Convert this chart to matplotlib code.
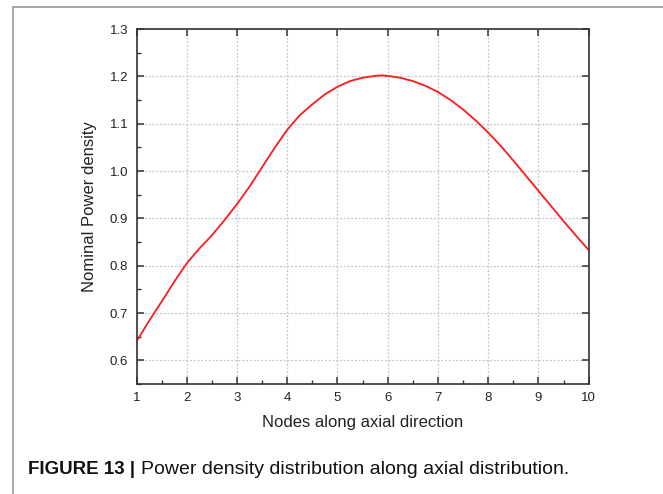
import matplotlib
matplotlib.use("Agg")
import matplotlib.pyplot as plt
from matplotlib.ticker import MultipleLocator
from matplotlib import font_manager
from matplotlib.lines import Line2D

# Data
nodes = [1.0, 1.25, 1.5, 1.75, 2.0, 2.25, 2.5, 2.75, 3.0, 3.25, 3.5, 3.75, 4.0,
         4.25, 4.5, 4.75, 5.0, 5.25, 5.5, 5.75, 5.9, 6.0, 6.25, 6.5, 6.75, 7.0,
         7.25, 7.5, 7.75, 8.0, 8.25, 8.5, 8.75, 9.0, 9.25, 9.5, 9.75, 10.0]
power = [0.640, 0.683, 0.724, 0.766, 0.805, 0.836, 0.864, 0.896, 0.930, 0.967,
         1.008, 1.049, 1.087, 1.118, 1.141, 1.162, 1.178, 1.190, 1.197, 1.201,
         1.202, 1.201, 1.197, 1.190, 1.180, 1.167, 1.150, 1.130, 1.107, 1.081,
         1.053, 1.022, 0.990, 0.958, 0.926, 0.894, 0.863, 0.833]
x_ticks = [1, 2, 3, 4, 5, 6, 7, 8, 9, 10]
y_ticks = [0.6, 0.7, 0.8, 0.9, 1.0, 1.1, 1.2, 1.3]
caption_bold = "FIGURE 13 |"
caption_text = "Power density distribution along axial distribution."

names = {f.name for f in font_manager.fontManager.ttflist}
base = "Liberation Sans" if "Liberation Sans" in names else "DejaVu Sans"

plt.rcParams['font.family'] = [base, 'DejaVu Sans']

fig = plt.figure(figsize=(6.63, 4.94), dpi=100)
fig.patch.set_facecolor("white")

# outer frame (left and top edges visible)
fig.add_artist(Line2D([12.5/663, 12.5/663], [0, 1 - 7/494], transform=fig.transFigure,
                      color="#9a9a9a", lw=1.2))
fig.add_artist(Line2D([12.5/663, 1], [1 - 7/494, 1 - 7/494], transform=fig.transFigure,
                      color="#9a9a9a", lw=1.2))

L, R, T, B = 136.5, 588.7, 29.0, 384.0
ax = fig.add_axes([L/663, 1 - B/494, (R-L)/663, (B-T)/494])

ax.plot(nodes, power, color="#ff1a1a", lw=1.3, solid_joinstyle="round")

ax.set_xlim(1, 10)
ax.set_ylim(0.55, 1.3)
ax.set_xticks(x_ticks)
ax.set_yticks(y_ticks)
ax.set_xticklabels([str(v) for v in x_ticks])
ax.set_yticklabels([f"{v:.1f}" for v in y_ticks])
ax.xaxis.set_minor_locator(MultipleLocator(0.5))
ax.yaxis.set_minor_locator(MultipleLocator(0.05))

ax.grid(True, which="major", color="#c4c4c4", linestyle=(0, (1.5, 1.5)), lw=0.9)
ax.set_axisbelow(True)

for s in ax.spines.values():
    s.set_color("#333333")
    s.set_linewidth(1.2)

ax.tick_params(which="major", direction="in", length=5, width=1.1, color="#333333",
               labelsize=9.5, labelcolor="#222222", pad=6, top=True, right=True)
ax.tick_params(which="minor", direction="in", length=3, width=1.0, color="#333333",
               top=False, right=False)

ax.set_xlabel("Nodes along axial direction", fontsize=12, color="#222222", labelpad=8)
ax.set_ylabel("Nominal Power density", fontsize=12, color="#222222", labelpad=9)

t1 = fig.text(28/663, 1 - 469/494, caption_bold, fontsize=13.5, fontweight="bold",
              va="center", ha="left", color="#111111")
fig.canvas.draw()
bb = t1.get_window_extent(renderer=fig.canvas.get_renderer())
x2 = (bb.x1 + 6) / fig.bbox.width
fig.text(x2, 1 - 469/494, caption_text, fontsize=14, va="center", ha="left",
         color="#111111")

fig.savefig("out.png", dpi=100, facecolor="white")
